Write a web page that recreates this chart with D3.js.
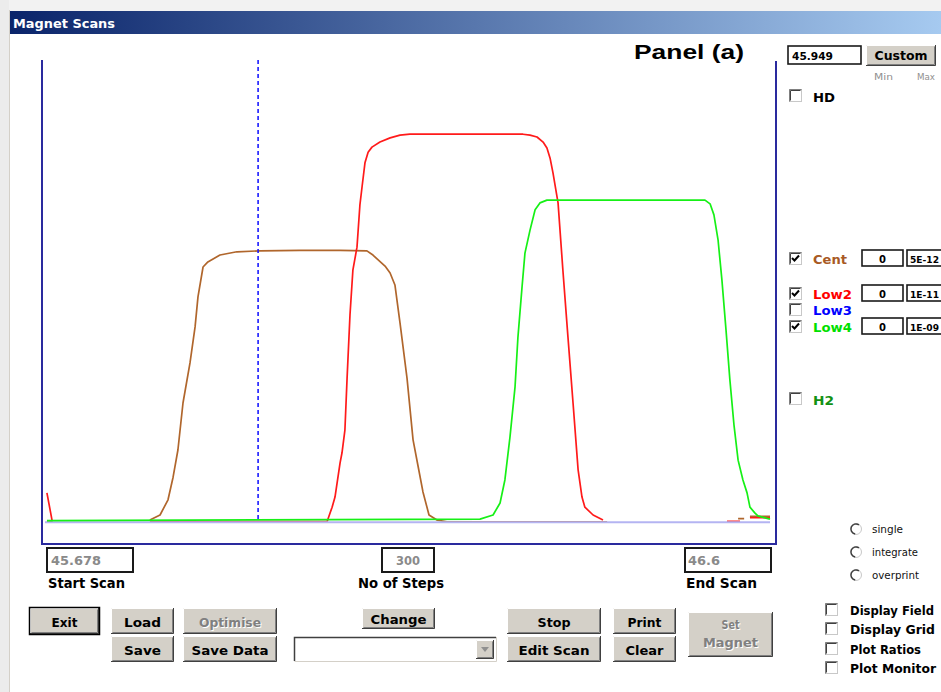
<!DOCTYPE html>
<html><head><meta charset="utf-8">
<script src="https://cdn.jsdelivr.net/npm/d3@7"></script>
<style>html,body{margin:0;padding:0;background:#fff;overflow:hidden}svg{display:block}</style>
</head><body>
<svg id="win" width="941" height="692"></svg>
<script>
// Scan settings
const START_MASS = 45.678;
const END_MASS = 46.6;
const STEPS = 300;
const CURSOR_MASS = 45.949;

// Traces: [step, intensity %]; null breaks a trace
const centScan = [
  [0.8, -0.15], [3.2, -0.15], null,
  [43.4, 0.2], [47.6, 1.3], [50.9, 4.6], [53.0, 9.5], [55.0, 15.4], [57.1, 25.6], [60.0, 34.3],
  [62.1, 42.1], [63.3, 48.6], [65.4, 55.1], [67.4, 56.2], [72.4, 57.7], [79.4, 58.4], [89.0, 58.6],
  [105.5, 58.7], [122.1, 58.7], [133.2, 58.6], [135.7, 57.7], [140.7, 55.3], [142.8, 53.8],
  [144.8, 51.2], [146.9, 43.0], [149.8, 31.0], [152.3, 17.6], [154.3, 12.1], [156.4, 6.3],
  [158.9, 1.3], [162.2, 0.2], [166.3, -0.2], [232.6, -0.2], null,
  [286.8, 0.5], [289.3, 0.5], null,
  [291.7, 1.0], [300, 1.0]
];
const low2Scan = [
  [0.8, 6.1], [2.9, 0.2], null,
  [43.4, -0.15], [116.7, -0.15], [118.8, 3.0], [120.0, 5.2], [122.1, 12.6], [122.9, 14.8],
  [124.1, 19.7], [125.0, 31.0], [126.2, 44.7], [127.4, 54.4], [129.1, 59.4], [130.3, 68.5],
  [131.2, 72.5], [132.4, 77.7], [133.7, 80.0], [135.3, 81.1], [138.6, 82.2], [142.8, 83.1],
  [146.9, 83.7], [151.0, 83.9], [197.8, 83.9], [200.7, 83.7], [203.6, 83.3], [206.1, 82.2],
  [207.7, 80.9], [209.0, 78.7], [210.2, 75.5], [212.3, 69.0], [214.3, 54.4], [216.4, 39.9],
  [218.5, 25.6], [220.6, 11.1], [222.2, 5.2], [223.4, 3.0], [226.8, 1.3], [230.9, 0.2], null,
  [282.2, -0.1], [287.6, -0.1], null,
  [291.7, 0.7], [300, 0.7]
];
const low3Scan = [[0, -0.25], [300, -0.25]];
const low4Scan = [
  [0.8, 0.1], [180.0, 0.4], [185.4, 1.3], [188.3, 3.9], [190.3, 8.9], [192.4, 18.2],
  [194.5, 29.1], [195.7, 39.9], [197.4, 50.8], [198.6, 58.1], [200.7, 63.1], [202.8, 67.5],
  [204.8, 69.0], [207.7, 69.6], [273.1, 69.6], [275.2, 68.8], [276.8, 66.4], [278.5, 61.0],
  [280.1, 52.3], [281.8, 41.4], [283.4, 30.6], [285.1, 20.8], [286.8, 13.2], [288.8, 8.9],
  [290.5, 6.1], [291.7, 3.0], [293.8, 1.7], [295.0, 1.1], [300, 0.4]
];

// Legend rows
const traceNames = ["Cent", "Low2", "Low3", "Low4"];
const traceLabelColors = ["#a85a24", "#ff0000", "#0000ff", "#00e000"];
const traceChecked = [true, true, false, true];
const traceMins = ["0", "0", null, "0"];
const traceMaxes = ["5E-12", "1E-11", null, "1E-09"];
const traceData = [centScan, low2Scan, low3Scan, low4Scan];
const traceLineColors = ["#b0662c", "#ff1a1a", "#b4b4f2", "#16f016"];

const svg = d3.select("#win");
const UI = "DejaVu Sans, Verdana, sans-serif";

function txt(g, x, y, s, o = {}) {
  const t = g.append("text").attr("x", x).attr("y", y).text(s)
    .attr("font-family", o.family || UI)
    .attr("font-size", o.size || 13)
    .attr("font-weight", o.weight || "bold")
    .attr("fill", o.fill || "#000");
  if (o.anchor) t.attr("text-anchor", o.anchor);
  if (o.width) t.attr("textLength", o.width).attr("lengthAdjust", "spacingAndGlyphs");
  return t;
}

// Window chrome
svg.append("rect").attr("x", 0).attr("y", 0).attr("width", 941).attr("height", 692).attr("fill", "#fff");
svg.append("rect").attr("x", 0).attr("y", 0).attr("width", 941).attr("height", 11).attr("fill", "#f2f2f2");
svg.append("rect").attr("x", 0).attr("y", 0).attr("width", 9).attr("height", 692).attr("fill", "#ececec");
svg.append("line").attr("x1", 9.5).attr("x2", 9.5).attr("y1", 10).attr("y2", 692).attr("stroke", "#d4d0c8");
const defs = svg.append("defs");
const grad = defs.append("linearGradient").attr("id", "titleGrad").attr("x1", 0).attr("x2", 1).attr("y1", 0).attr("y2", 0);
grad.append("stop").attr("offset", "0%").attr("stop-color", "#0a246a");
grad.append("stop").attr("offset", "100%").attr("stop-color", "#a6caf0");
svg.append("rect").attr("x", 10).attr("y", 11).attr("width", 931).attr("height", 23).attr("fill", "url(#titleGrad)");
txt(svg, 13, 28, "Magnet Scans", { fill: "#fff", size: 13, width: 102 });

// Plot
const x = d3.scaleLinear().domain([0, STEPS]).range([45, 770]);
const y = d3.scaleLinear().domain([0, 100]).range([521, 60]);
const massToStep = d3.scaleLinear().domain([START_MASS, END_MASS]).range([0, STEPS]);

const plot = svg.append("g");
const line = d3.line().defined(d => d !== null).x(d => x(d[0])).y(d => y(d[1]));

traceData.forEach((data, i) => {
  plot.append("path").datum(data).attr("d", line)
    .attr("fill", "none").attr("stroke", traceLineColors[i])
    .attr("stroke-width", i === 2 ? 2 : 1.7).attr("stroke-linejoin", "round");
});

// Cursor
const cx = x(massToStep(CURSOR_MASS));
plot.append("line").attr("x1", cx).attr("x2", cx).attr("y1", y(100)).attr("y2", y(0))
  .attr("stroke", "#1a1aff").attr("stroke-width", 1.6).attr("stroke-dasharray", "4,3");

// Frame
const frameColor = "#2a2a9e";
plot.append("path").attr("d", "M42,60V544H776V61").attr("fill", "none").attr("stroke", frameColor).attr("stroke-width", 2);

txt(svg, 634, 59, "Panel (a)", { family: "Liberation Sans, Arial, sans-serif", size: 21, width: 110 });

// Widgets
function sunkenBox(x0, y0, w, h, label, o = {}) {
  svg.append("rect").attr("x", x0).attr("y", y0).attr("width", w).attr("height", h)
    .attr("fill", "#fff").attr("stroke", o.stroke || "#1a1a1a").attr("stroke-width", o.sw || 2);
  if (label != null) {
    txt(svg, o.tx != null ? o.tx : x0 + w / 2, o.ty, label,
      { anchor: o.tx != null ? null : "middle", size: o.size || 11, fill: o.fill || "#000", width: o.width });
  }
}

function button(x0, y0, w, h, label, o = {}) {
  const g = svg.append("g");
  g.append("rect").attr("x", x0).attr("y", y0).attr("width", w).attr("height", h).attr("fill", "#d4d0c8");
  g.append("path").attr("d", `M${x0 + 0.5},${y0 + h - 1}V${y0 + 0.5}H${x0 + w - 1}`).attr("fill", "none").attr("stroke", "#fff");
  g.append("path").attr("d", `M${x0 + 1.5},${y0 + h - 1.5}H${x0 + w - 1.5}V${y0 + 1.5}`).attr("fill", "none").attr("stroke", "#808080");
  g.append("path").attr("d", `M${x0},${y0 + h - 0.5}H${x0 + w - 0.5}V${y0}`).attr("fill", "none").attr("stroke", "#404040");
  if (o.isDefault) {
    g.append("rect").attr("x", x0 - 0.5).attr("y", y0 - 0.5).attr("width", w + 1).attr("height", h + 1)
      .attr("fill", "none").attr("stroke", "#000").attr("stroke-width", 1.5);
  }
  const lines = Array.isArray(label) ? label : [label];
  const baselines = o.baselines || [o.baseline];
  const widths = o.widths || [o.width];
  lines.forEach((s, i) => {
    if (o.disabled) {
      txt(g, x0 + w / 2 + 1, baselines[i] + 1, s, { anchor: "middle", size: 13, fill: "#fff", width: widths[i] });
    }
    txt(g, x0 + w / 2, baselines[i], s, { anchor: "middle", size: 13, fill: o.disabled ? "#808080" : "#000", width: widths[i] });
  });
}

function checkbox(x0, y0, checked) {
  const g = svg.append("g");
  g.append("rect").attr("x", x0 + 0.5).attr("y", y0 + 0.5).attr("width", 12).attr("height", 12)
    .attr("fill", "#fff").attr("stroke", "#c8c8c8");
  g.append("path").attr("d", `M${x0 + 0.5},${y0 + 12.5}V${y0 + 0.5}H${x0 + 12.5}`).attr("fill", "none").attr("stroke", "#808080");
  g.append("path").attr("d", `M${x0 + 1.5},${y0 + 11.5}V${y0 + 1.5}H${x0 + 11.5}`).attr("fill", "none").attr("stroke", "#404040");
  if (checked) {
    g.append("path").attr("d", `M${x0 + 3},${y0 + 6}L${x0 + 5.5},${y0 + 8.5}L${x0 + 10},${y0 + 3.5}`)
      .attr("fill", "none").attr("stroke", "#000").attr("stroke-width", 2);
  }
}

function radio(cx0, cy0) {
  const g = svg.append("g");
  g.append("circle").attr("cx", cx0).attr("cy", cy0).attr("r", 5.5).attr("fill", "#fff").attr("stroke", "#c8c8c8");
  const arc = d3.arc().innerRadius(4.3).outerRadius(5.8).startAngle(-Math.PI * 0.95).endAngle(Math.PI * 0.2);
  g.append("path").attr("d", arc()).attr("transform", `translate(${cx0},${cy0})`).attr("fill", "#404040");
}

// Top-right controls
sunkenBox(788, 46, 73, 18, "45.949", { tx: 792, ty: 60, size: 11, width: 41, sw: 1.6 });
button(866, 45, 70, 21, "Custom", { baseline: 60, width: 53 });
txt(svg, 874, 80, "Min", { size: 9, weight: "normal", fill: "#909090", width: 19 });
txt(svg, 917, 80, "Max", { size: 9, weight: "normal", fill: "#909090", width: 18 });
checkbox(789, 89, false);
txt(svg, 813, 102, "HD", { size: 13, width: 22 });

// Trace legend
const legendCheckY = [252, 287, 303, 320];
const legendBase = [264, 299, 315, 332];
const legendWidths = [34, 39, 39, 39];
traceNames.forEach((name, i) => {
  checkbox(789, legendCheckY[i], traceChecked[i]);
  txt(svg, 813, legendBase[i], name, { size: 13, fill: traceLabelColors[i], width: legendWidths[i] });
  if (traceMins[i] != null) {
    sunkenBox(862, legendCheckY[i] - 2, 41, 16, traceMins[i], { ty: legendBase[i] - 1, size: 10, sw: 1.6 });
    sunkenBox(907, legendCheckY[i] - 2, 45, 16, traceMaxes[i], { tx: 910, ty: legendBase[i] - 1, size: 9, sw: 1.6, width: 29 });
  }
});
checkbox(789, 392, false);
txt(svg, 813, 405, "H2", { size: 13, fill: "#139113", width: 21 });

// Acquisition mode
const modes = ["single", "integrate", "overprint"];
const modeY = [529, 552, 575];
const modeW = [31, 46, 47];
modes.forEach((m, i) => {
  radio(856, modeY[i]);
  txt(svg, 872, modeY[i] + 4, m, { size: 11, weight: "normal", fill: "#111", width: modeW[i] });
});

// Scan range fields
sunkenBox(47, 548, 86, 24, "45.678", { tx: 51, ty: 565, size: 13, fill: "#8a8a8a", width: 50 });
txt(svg, 48, 588, "Start Scan", { size: 14, width: 77 });
sunkenBox(382, 548, 52, 24, String(STEPS), { ty: 565, size: 13, fill: "#8a8a8a", width: 24 });
txt(svg, 358, 588, "No of Steps", { size: 14, width: 86 });
sunkenBox(685, 548, 86, 24, "46.6", { tx: 688, ty: 565, size: 13, fill: "#8a8a8a", width: 32 });
txt(svg, 686, 588, "End Scan", { size: 14, width: 71 });

// Buttons
button(30, 608, 69, 26, "Exit", { baseline: 627, width: 26, isDefault: true });
button(111, 608, 63, 26, "Load", { baseline: 627, width: 37 });
button(111, 636, 63, 26, "Save", { baseline: 655, width: 37 });
button(183, 608, 94, 26, "Optimise", { baseline: 627, width: 62, disabled: true });
button(183, 636, 94, 26, "Save Data", { baseline: 655, width: 77 });
button(362, 608, 73, 21, "Change", { baseline: 624, width: 56 });
button(507, 608, 94, 26, "Stop", { baseline: 627, width: 33 });
button(507, 636, 94, 26, "Edit Scan", { baseline: 655, width: 71 });
button(613, 608, 63, 26, "Print", { baseline: 627, width: 34 });
button(613, 636, 63, 26, "Clear", { baseline: 655, width: 38 });
button(688, 612, 85, 45, ["Set", "Magnet"], { baselines: [629, 647], widths: [18, 55], disabled: true });

// Combo box
svg.append("rect").attr("x", 294).attr("y", 637).attr("width", 202).attr("height", 24).attr("fill", "#fff");
svg.append("path").attr("d", "M294.5,661V637.5H496").attr("fill", "none").attr("stroke", "#404040").attr("stroke-width", 1.5);
svg.append("path").attr("d", "M294.5,661.5H496.5V637").attr("fill", "none").attr("stroke", "#d4d0c8");
button(476, 640, 18, 19, "", { baseline: 0 });
svg.append("path").attr("d", "M481,647H489L485,652Z").attr("fill", "#909090");

// Display options
const options = ["Display Field", "Display Grid", "Plot Ratios", "Plot Monitor"];
const optY = [603, 622, 642, 661];
const optW = [84, 85, 71, 86];
options.forEach((s, i) => {
  checkbox(825, optY[i], false);
  txt(svg, 850, optY[i] + 12, s, { size: 12, width: optW[i] });
});
</script></body></html>
